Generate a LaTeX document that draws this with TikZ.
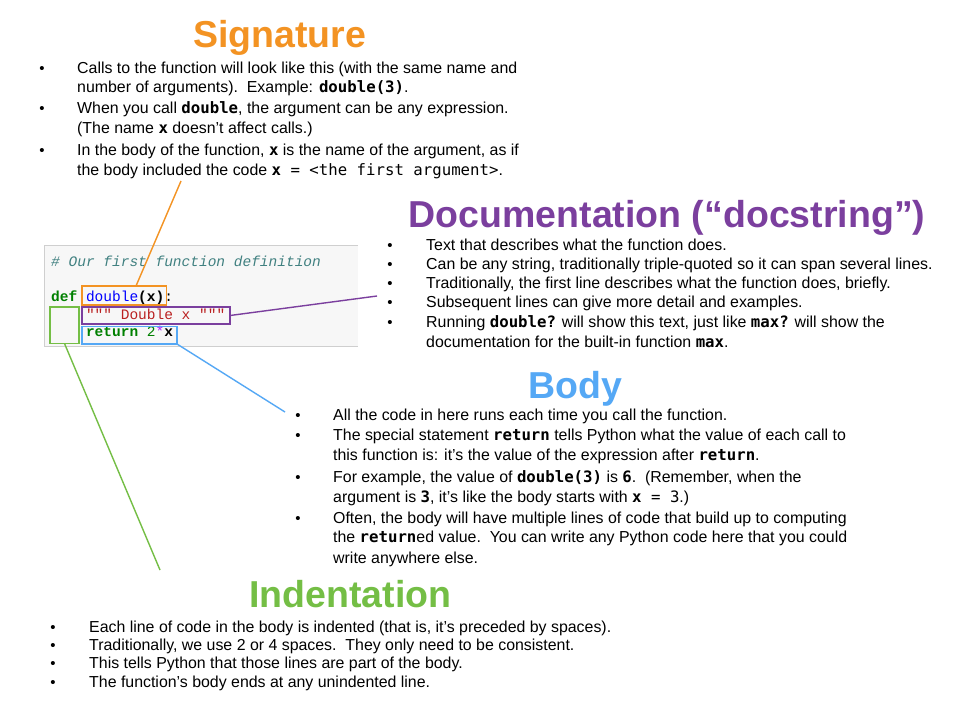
\documentclass[tikz,border=0pt]{standalone}
\usepackage{fontspec}
\setmainfont{Liberation Sans}
\newfontfamily\codefont{Liberation Mono}
\newfontfamily\monofont{DejaVu Sans Mono}
\definecolor{sigC}{HTML}{F39323}
\definecolor{docC}{HTML}{7B3F9E}
\definecolor{bodyC}{HTML}{55A8F5}
\definecolor{indC}{HTML}{74BE45}
\definecolor{cmtC}{HTML}{408080}
\definecolor{kwC}{HTML}{008000}
\definecolor{nmC}{HTML}{0000FF}
\definecolor{strC}{HTML}{BA2121}
\definecolor{opC}{HTML}{AA22FF}
\definecolor{boxbg}{HTML}{F7F7F7}
\definecolor{boxln}{HTML}{CFCFCF}
\newcommand\mcb[1]{{\monofont\bfseries\fontsize{15.7}{18}\selectfont #1}}
\newcommand\mcr[1]{{\monofont\fontsize{15.7}{18}\selectfont #1}}
\tikzset{
  txt/.style={inner sep=0pt, anchor=base west, font=\fontsize{15.9}{18}\selectfont},
  bul/.style={inner sep=0pt, anchor=base, font=\fontsize{15}{18}\selectfont},
  ttl/.style={inner sep=0pt, anchor=base, font=\bfseries\fontsize{37.5}{40}\selectfont},
  code/.style={inner sep=0pt, anchor=base west, font=\codefont\fontsize{14.5}{17}\selectfont},
  hl/.style={draw, line width=1.3pt, inner sep=0pt, outer sep=0pt, anchor=north west},
  lead/.style={line width=1.4pt},
}
\begin{document}
\begin{tikzpicture}[x=1pt,y=-1pt]
\useasboundingbox (0,0) rectangle (953,710);
\fill[white] (0,0) rectangle (953,710);

% ---------- code box ----------
\fill[boxbg] (44,245) rectangle (358,346);
\draw[boxln, line width=1pt] (358,245) -- (44,245) -- (44,346) -- (358,346);
\node[code, text=cmtC] (cmt) at (51,266) {\itshape \# Our first function definition};
\node[code] (defl) at (51,301) {\textcolor{kwC}{\bfseries def} \textcolor{nmC}{double}\textbf{(x)}:};
\node[code, text=strC] (dstr) at (85.8,319.5) {"{}"{}" Double x "{}"{}"};
\node[code] (retl) at (85.8,336.5) {\textcolor{kwC}{\bfseries return} \textcolor{kwC}{2}\textcolor{opC}{*}\textbf{x}};

% ---------- highlight boxes ----------
\node[hl, draw=sigC, minimum width=84.5pt, minimum height=19pt] (sigbox) at (82,286) {};
\node[hl, draw=docC, minimum width=148pt, minimum height=17pt] (docbox) at (82,307) {};
\node[hl, draw=bodyC, minimum width=95pt, minimum height=17.5pt] (bodybox) at (82,326.5) {};
\node[hl, draw=indC, minimum width=29pt, minimum height=36.5pt] (indbox) at (50,307) {};

% ---------- leader lines ----------
\coordinate (sigatt) at (136,286);
\coordinate (sigend) at (181,181);
\coordinate (docend) at (377,296);
\coordinate (bodyend) at (285,412);
\coordinate (indend) at (160,570);
\draw[lead, sigC] (sigatt) -- (sigend);
\draw[lead, docC] (docbox.east) -- (docend);
\draw[lead, bodyC] (bodybox.south east) -- (bodyend);
\draw[lead, indC] (indbox.south) -- (indend);

% ---------- Signature ----------
\node[ttl, text=sigC] (sigttl) at (279.5,47) {Signature};
\node[bul] (sb1) at (42,73) {\textbullet};
\node[txt] (s1) at (77,73) {Calls to the function will look like this (with the same name and};
\node[txt] (s2) at (77,92) {number of arguments).\ \ Example: \mcb{double(3)}.};
\node[bul] (sb2) at (42,113) {\textbullet};
\node[txt] (s3) at (77,113) {When you call \mcb{double}, the argument can be any expression.};
\node[txt] (s4) at (77,133) {(The name \mcb{x} doesn’t affect calls.)};
\node[bul] (sb3) at (42,155) {\textbullet};
\node[txt] (s5) at (77,155) {In the body of the function, \mcb{x} is the name of the argument, as if};
\node[txt] (s6) at (77,175) {the body included the code \mcb{x}\mcr{ = <the first argument>}.};

% ---------- Documentation ----------
\node[ttl, text=docC] (docttl) at (667,227) {Documentation (“docstring”)};
\node[bul] (db1) at (390,250) {\textbullet};
\node[txt] (d1) at (426,250) {Text that describes what the function does.};
\node[bul] (db2) at (390,269) {\textbullet};
\node[txt] (d2) at (426,269) {Can be any string, traditionally triple-quoted so it can span several lines.};
\node[bul] (db3) at (390,288) {\textbullet};
\node[txt] (d3) at (426,288) {Traditionally, the first line describes what the function does, briefly.};
\node[bul] (db4) at (390,307) {\textbullet};
\node[txt] (d4) at (426,307) {Subsequent lines can give more detail and examples.};
\node[bul] (db5) at (390,327) {\textbullet};
\node[txt] (d5) at (426,327) {Running \mcb{double?} will show this text, just like \mcb{max?} will show the};
\node[txt] (d6) at (426,347) {documentation for the built-in function \mcb{max}.};

% ---------- Body ----------
\node[ttl, text=bodyC] (bodyttl) at (575,398) {Body};
\node[bul] (bb1) at (298,420) {\textbullet};
\node[txt] (b1) at (333,420) {All the code in here runs each time you call the function.};
\node[bul] (bb2) at (298,440) {\textbullet};
\node[txt] (b2) at (333,440) {The special statement \mcb{return} tells Python what the value of each call to};
\node[txt] (b3) at (333,460) {this function is: it’s the value of the expression after \mcb{return}.};
\node[bul] (bb3) at (298,482) {\textbullet};
\node[txt] (b4) at (333,482) {For example, the value of \mcb{double(3)} is \mcb{6}.\ \ (Remember, when the};
\node[txt] (b5) at (333,502) {argument is \mcb{3}, it’s like the body starts with \mcb{x}\mcr{ = 3}.)};
\node[bul] (bb4) at (298,523) {\textbullet};
\node[txt] (b6) at (333,523) {Often, the body will have multiple lines of code that build up to computing};
\node[txt] (b7) at (333,542) {the \mcb{return}ed value.\ \ You can write any Python code here that you could};
\node[txt] (b8) at (333,563) {write anywhere else.};

% ---------- Indentation ----------
\node[ttl, text=indC] (indttl) at (350.5,607) {Indentation};
\node[bul] (ib1) at (53,632) {\textbullet};
\node[txt] (i1) at (89,632) {Each line of code in the body is indented (that is, it’s preceded by spaces).};
\node[bul] (ib2) at (53,650) {\textbullet};
\node[txt] (i2) at (89,650) {Traditionally, we use 2 or 4 spaces.\ \ They only need to be consistent.};
\node[bul] (ib3) at (53,668) {\textbullet};
\node[txt] (i3) at (89,668) {This tells Python that those lines are part of the body.};
\node[bul] (ib4) at (53,687) {\textbullet};
\node[txt] (i4) at (89,687) {The function’s body ends at any unindented line.};
\end{tikzpicture}
\end{document}
